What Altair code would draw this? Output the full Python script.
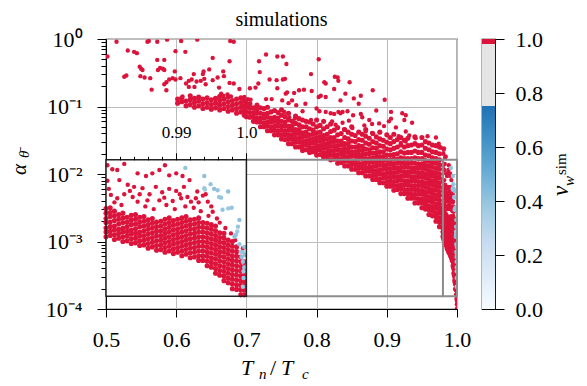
import altair as alt
import pandas as pd

# ---------------- data ----------------
# x = T_n/T_c, ly = log10(alpha_theta), v = v_w^sim (red points have v = 1.0)

# sparse upper cloud (x, ly)
cloud_pts = [
    (0.502, -0.26), (0.515, -0.04), (0.531, -0.17), (0.540, -0.19), (0.544, -0.21), (0.559, -0.04),
    (0.561, -0.03), (0.573, -0.04), (0.587, -0.01), (0.599, -0.18), (0.607, -0.03), (0.613, -0.19),
    (0.630, -0.01), (0.652, -0.28), (0.677, -0.03), (0.682, -0.04), (0.676, -0.33),
    (0.529, -0.54), (0.526, -0.56), (0.548, -0.41), (0.550, -0.44), (0.552, -0.46), (0.549, -0.55),
    (0.555, -0.57), (0.563, -0.58), (0.565, -0.75), (0.573, -0.31), (0.583, -0.31), (0.577, -0.43),
    (0.581, -0.44), (0.574, -0.46), (0.583, -0.46), (0.586, -0.64), (0.590, -0.60), (0.595, -0.58),
    (0.598, -0.48), (0.599, -0.60), (0.583, -0.67), (0.586, -0.76), (0.606, -0.58), (0.609, -0.85),
    (0.614, -0.66), (0.618, -0.62), (0.618, -0.71), (0.622, -0.60), (0.625, -0.52), (0.626, -0.71),
    (0.629, -0.63), (0.635, -0.62), (0.639, -0.48), (0.638, -0.52), (0.640, -0.59), (0.642, -0.67),
    (0.647, -0.45), (0.652, -0.61), (0.659, -0.57), (0.667, -0.48), (0.668, -0.55), (0.661, -0.72),
    (0.664, -0.81), (0.667, -0.84), (0.673, -0.82), (0.678, -0.85), (0.676, -0.65), (0.682, -0.66),
    (0.690, -0.74), (0.697, -0.86), (0.702, -0.89), (0.706, -0.90), (0.705, -0.73), (0.718, -0.33),
    (0.728, -0.23), (0.719, -0.49), (0.717, -0.66), (0.713, -0.72), (0.733, -0.60), (0.743, -0.61),
    (0.744, -0.73), (0.744, -0.26), (0.752, -0.26), (0.736, -0.89), (0.728, -0.89),
    (0.757, -0.37), (0.803, -0.30), (0.752, -0.60), (0.755, -0.59), (0.792, -0.52), (0.811, -0.64),
    (0.813, -0.66), (0.826, -0.56), (0.830, -0.57), (0.831, -0.62), (0.847, -0.64), (0.825, -0.74),
    (0.806, -0.84), (0.803, -0.86), (0.813, -0.86), (0.841, -0.81), (0.834, -0.91), (0.853, -0.88),
    (0.863, -0.84), (0.860, -0.96), (0.880, -0.76), (0.897, -0.90), (0.885, -1.06), (0.906, -1.08),
    (0.927, -1.13), (0.925, -1.20), (0.756, -0.81), (0.758, -0.79), (0.768, -0.80), (0.775, -0.76),
    (0.782, -0.75), (0.793, -0.77), (0.784, -0.96), (0.792, -1.20), (0.751, -0.91), (0.760, -0.95),
    (0.765, -0.91), (0.771, -0.98), (0.754, -1.08), (0.761, -1.16), (0.769, -1.18), (0.780, -1.07),
    (0.800, -1.03), (0.804, -1.07), (0.813, -1.08), (0.825, -1.11), (0.831, -1.08), (0.837, -1.08),
    (0.844, -1.07), (0.852, -1.13), (0.865, -1.16), (0.889, -1.25), (0.820, -1.10), (0.834, -1.10),
    (0.863, -1.11), (0.906, -1.18), (0.903, -1.22), (0.913, -1.31), (0.896, -1.29), (0.875, -1.20),
    (0.879, -1.26), (0.868, -1.28), (0.870, -1.37), (0.879, -1.39), (0.822, -1.22), (0.827, -1.27),
    (0.837, -1.24), (0.846, -1.21), (0.839, -1.34), (0.851, -1.32), (0.927, -1.37), (0.932, -1.43),
    (0.941, -1.47), (0.958, -1.44), (0.970, -1.46), (0.922, -1.10), (0.936, -1.24), (0.917, -1.44),
    (0.920, -1.54), (0.941, -1.56), (0.927, -1.52), (0.977, -1.61), (0.974, -1.55),
    (0.9806, -1.70), (0.9815, -1.62), (0.9830, -1.76), (0.9840, -1.74), (0.9810, -1.64),
]

# band near the lower envelope, 0.60 < x < 0.70 (columns: x, ly values)
left_col_x = [0.602, 0.608, 0.614, 0.620, 0.626, 0.632, 0.638, 0.644, 0.650, 0.656, 0.662,
              0.668, 0.674, 0.680, 0.686, 0.692, 0.697]
left_col_ly = [
    [-0.95, -0.89], [-0.93, -0.87], [-0.99, -0.92], [-0.97, -0.90, -0.84], [-1.01, -0.94, -0.88],
    [-0.99, -0.92, -0.86], [-1.03, -0.96, -0.89], [-1.01, -0.94, -0.87], [-1.04, -0.97, -0.90],
    [-1.02, -0.95, -0.88], [-1.05, -0.98, -0.91, -0.85], [-1.03, -0.96, -0.89],
    [-1.07, -1.00, -0.93, -0.86], [-1.05, -0.98, -0.91], [-1.10, -1.03, -0.96, -0.89],
    [-1.08, -1.01, -0.94, -0.87], [-1.13, -1.06, -0.99, -0.92],
]

# dense band, 0.70 <= x <= 0.975
band_col_x = [0.700, 0.705, 0.710, 0.715, 0.720, 0.725, 0.730, 0.735, 0.740, 0.745, 0.750, 0.755,
              0.760, 0.765, 0.770, 0.775, 0.780, 0.785, 0.790, 0.795, 0.800, 0.805, 0.810, 0.815,
              0.820, 0.825, 0.830, 0.835, 0.840, 0.845, 0.850, 0.855, 0.860, 0.865, 0.870, 0.875,
              0.880, 0.885, 0.890, 0.895, 0.900, 0.905, 0.910, 0.915, 0.920, 0.925, 0.930, 0.935,
              0.940, 0.945, 0.950, 0.955, 0.960, 0.965, 0.970, 0.975]
band_col_ly = [
    [-1.15, -1.08, -1.01, -0.95],
    [-1.16, -1.09, -1.02, -0.96],
    [-1.22, -1.15, -1.09, -1.02],
    [-1.23, -1.17, -1.10, -1.04, -0.98],
    [-1.30, -1.23, -1.17, -1.10, -1.02],
    [-1.30, -1.24, -1.17, -1.11, -1.03],
    [-1.36, -1.29, -1.23, -1.16, -1.10, -1.01],
    [-1.36, -1.30, -1.23, -1.17, -1.08],
    [-1.42, -1.35, -1.29, -1.22, -1.16, -1.06],
    [-1.42, -1.36, -1.29, -1.23, -1.17, -1.09],
    [-1.48, -1.42, -1.35, -1.29, -1.22, -1.13, -1.05],
    [-1.49, -1.42, -1.36, -1.29, -1.23, -1.15],
    [-1.55, -1.48, -1.42, -1.35, -1.29, -1.20, -1.10],
    [-1.55, -1.48, -1.42, -1.35, -1.29, -1.22],
    [-1.60, -1.53, -1.47, -1.40, -1.34, -1.25, -1.14],
    [-1.60, -1.53, -1.47, -1.40, -1.34, -1.27, -1.18],
    [-1.65, -1.58, -1.52, -1.45, -1.39, -1.30, -1.20],
    [-1.64, -1.57, -1.51, -1.44, -1.38, -1.30, -1.22],
    [-1.68, -1.62, -1.55, -1.49, -1.42, -1.33, -1.23],
    [-1.67, -1.61, -1.54, -1.48, -1.41, -1.35, -1.26],
    [-1.72, -1.65, -1.59, -1.52, -1.46, -1.39, -1.30, -1.20],
    [-1.71, -1.64, -1.58, -1.51, -1.45, -1.38, -1.28],
    [-1.75, -1.69, -1.62, -1.56, -1.49, -1.43, -1.33, -1.22],
    [-1.74, -1.68, -1.61, -1.55, -1.48, -1.41, -1.30],
    [-1.79, -1.72, -1.66, -1.59, -1.53, -1.46, -1.37, -1.26],
    [-1.78, -1.72, -1.65, -1.59, -1.52, -1.46, -1.35],
    [-1.84, -1.77, -1.71, -1.64, -1.58, -1.51, -1.42, -1.31],
    [-1.83, -1.77, -1.70, -1.64, -1.57, -1.51, -1.40],
    [-1.88, -1.81, -1.75, -1.68, -1.62, -1.55, -1.46, -1.34],
    [-1.88, -1.81, -1.75, -1.68, -1.62, -1.55, -1.48, -1.38],
    [-1.93, -1.86, -1.80, -1.73, -1.67, -1.60, -1.51, -1.41, -1.30],
    [-1.93, -1.86, -1.80, -1.73, -1.67, -1.60, -1.52, -1.43],
    [-1.98, -1.91, -1.85, -1.78, -1.72, -1.65, -1.58, -1.49, -1.38],
    [-1.98, -1.91, -1.85, -1.78, -1.72, -1.65, -1.59, -1.50, -1.41],
    [-2.03, -1.96, -1.90, -1.83, -1.77, -1.70, -1.63, -1.54, -1.44, -1.34],
    [-2.03, -1.96, -1.90, -1.83, -1.77, -1.70, -1.64, -1.56, -1.47],
    [-2.08, -2.02, -1.95, -1.89, -1.82, -1.76, -1.69, -1.61, -1.52, -1.40],
    [-2.08, -2.01, -1.95, -1.88, -1.82, -1.75, -1.69, -1.62, -1.54, -1.45],
    [-2.13, -2.07, -2.00, -1.94, -1.87, -1.81, -1.74, -1.67, -1.58, -1.48, -1.38],
    [-2.13, -2.06, -2.00, -1.93, -1.87, -1.80, -1.74, -1.67, -1.59, -1.50],
    [-2.18, -2.12, -2.05, -1.99, -1.92, -1.86, -1.79, -1.72, -1.63, -1.53, -1.42],
    [-2.18, -2.11, -2.05, -1.98, -1.92, -1.85, -1.79, -1.72, -1.64, -1.55, -1.46],
    [-2.24, -2.17, -2.11, -2.04, -1.98, -1.91, -1.85, -1.78, -1.71, -1.62, -1.52, -1.41],
    [-2.23, -2.17, -2.10, -2.04, -1.97, -1.91, -1.84, -1.78, -1.70, -1.60, -1.49],
    [-2.29, -2.22, -2.16, -2.09, -2.03, -1.96, -1.90, -1.83, -1.76, -1.67, -1.57, -1.46],
    [-2.29, -2.23, -2.16, -2.10, -2.03, -1.97, -1.90, -1.84, -1.77, -1.69, -1.60, -1.50],
    [-2.36, -2.29, -2.23, -2.16, -2.10, -2.03, -1.97, -1.90, -1.84, -1.77, -1.68, -1.58, -1.47],
    [-2.36, -2.30, -2.23, -2.17, -2.10, -2.04, -1.97, -1.91, -1.84, -1.77, -1.68, -1.57],
    [-2.43, -2.36, -2.30, -2.23, -2.17, -2.10, -2.04, -1.97, -1.91, -1.84, -1.76, -1.66, -1.55, -1.45],
    [-2.43, -2.37, -2.30, -2.24, -2.17, -2.11, -2.04, -1.98, -1.91, -1.85, -1.77, -1.68, -1.58],
    [-2.50, -2.43, -2.37, -2.30, -2.24, -2.17, -2.11, -2.04, -1.98, -1.91, -1.85, -1.77, -1.68, -1.57, -1.46],
    [-2.52, -2.45, -2.39, -2.32, -2.26, -2.19, -2.13, -2.06, -2.00, -1.93, -1.87, -1.80, -1.72, -1.62, -1.52],
    [-2.60, -2.53, -2.47, -2.40, -2.34, -2.27, -2.21, -2.14, -2.08, -2.01, -1.95, -1.88, -1.81, -1.73, -1.64, -1.54],
    [-2.62, -2.55, -2.49, -2.42, -2.36, -2.29, -2.23, -2.16, -2.10, -2.03, -1.97, -1.90, -1.83, -1.76, -1.67, -1.57],
    [-2.70, -2.63, -2.57, -2.50, -2.44, -2.37, -2.31, -2.24, -2.18, -2.11, -2.05, -1.98, -1.91, -1.84, -1.77, -1.68, -1.58],
    [-2.78, -2.71, -2.65, -2.58, -2.52, -2.45, -2.39, -2.32, -2.26, -2.19, -2.13, -2.06, -2.00, -1.93, -1.86, -1.79, -1.70, -1.60],
]

# zoomed region 0.98 <= x <= 1.0, dense band (columns)
near_col_x = [0.9800, 0.9806, 0.9812, 0.9818, 0.9824, 0.9830, 0.9836, 0.9842, 0.9848, 0.9854,
              0.9860, 0.9866, 0.9872, 0.9878, 0.9884, 0.9890, 0.9896, 0.9902, 0.9908, 0.9914,
              0.9920, 0.9926, 0.9932, 0.9938, 0.9944, 0.9950, 0.9956, 0.9962, 0.9968, 0.9974,
              0.9980, 0.9986, 0.9992, 0.9997]
near_col_ly = [
    [-2.93, -2.86, -2.80, -2.72, -2.66, -2.58, -2.51],
    [-2.91, -2.85, -2.78, -2.71, -2.63, -2.57, -2.50],
    [-2.97, -2.90, -2.83, -2.77, -2.69, -2.62, -2.55],
    [-2.95, -2.88, -2.82, -2.74, -2.67, -2.60],
    [-3.00, -2.93, -2.86, -2.80, -2.72, -2.65, -2.58],
    [-2.99, -2.92, -2.85, -2.78, -2.71, -2.64],
    [-3.03, -2.96, -2.89, -2.83, -2.75, -2.68, -2.61],
    [-3.02, -2.95, -2.88, -2.81, -2.74, -2.67, -2.60],
    [-3.06, -2.99, -2.92, -2.86, -2.78, -2.71, -2.64],
    [-3.05, -2.98, -2.91, -2.84, -2.77, -2.70, -2.63],
    [-3.10, -3.03, -2.96, -2.89, -2.82, -2.75, -2.68],
    [-3.08, -3.01, -2.94, -2.87, -2.80, -2.73, -2.66],
    [-3.13, -3.06, -2.99, -2.92, -2.85, -2.78, -2.71],
    [-3.12, -3.05, -2.98, -2.91, -2.84, -2.77, -2.70],
    [-3.16, -3.09, -3.02, -2.95, -2.88, -2.81, -2.74, -2.67],
    [-3.14, -3.07, -3.00, -2.93, -2.86, -2.79, -2.72, -2.65],
    [-3.18, -3.11, -3.04, -2.97, -2.90, -2.83, -2.76, -2.69],
    [-3.16, -3.09, -3.02, -2.95, -2.88, -2.81, -2.74, -2.67],
    [-3.21, -3.14, -3.07, -3.00, -2.93, -2.86, -2.79, -2.72, -2.65],
    [-3.19, -3.12, -3.05, -2.98, -2.91, -2.84, -2.77, -2.70, -2.63],
    [-3.24, -3.17, -3.10, -3.03, -2.96, -2.89, -2.82, -2.75, -2.68],
    [-3.23, -3.16, -3.09, -3.02, -2.95, -2.88, -2.81, -2.74, -2.67],
    [-3.28, -3.21, -3.14, -3.07, -3.00, -2.93, -2.86, -2.79, -2.72, -2.65],
    [-3.28, -3.21, -3.14, -3.07, -3.00, -2.93, -2.86, -2.79, -2.72],
    [-3.36, -3.29, -3.22, -3.15, -3.08, -3.01, -2.94, -2.87, -2.80, -2.73],
    [-3.38, -3.31, -3.24, -3.17, -3.10, -3.03, -2.96, -2.89, -2.82, -2.75],
    [-3.47, -3.40, -3.33, -3.26, -3.19, -3.12, -3.05, -2.98, -2.91, -2.84, -2.77],
    [-3.50, -3.43, -3.36, -3.29, -3.22, -3.15, -3.08, -3.01, -2.94, -2.87],
    [-3.58, -3.51, -3.44, -3.37, -3.30, -3.23, -3.16, -3.09, -3.02, -2.95, -2.88],
    [-3.61, -3.54, -3.47, -3.40, -3.33, -3.26, -3.19, -3.12, -3.05, -2.98],
    [-3.70, -3.63, -3.56, -3.49, -3.42, -3.35, -3.28, -3.21, -3.14, -3.07, -3.00],
    [-3.71, -3.64, -3.57, -3.50, -3.43, -3.36, -3.29, -3.22, -3.15, -3.08],
    [-3.79, -3.72, -3.65, -3.58, -3.51, -3.44, -3.37, -3.30, -3.23],
    [-3.79, -3.72, -3.65, -3.58, -3.51, -3.44, -3.37, -3.30],
]

# zoomed region, sparser red points above the band and the tail below it (x, ly)
near_pts = [
    (0.9802, -1.87), (0.9809, -1.93), (0.9816, -1.94), (0.9826, -1.85), (0.9845, -1.99), (0.9857, -2.03),
    (0.9866, -1.99), (0.9876, -1.94), (0.9884, -1.87), (0.9890, -2.02), (0.9900, -1.99), (0.9909, -2.03),
    (0.9919, -2.09), (0.9802, -2.10), (0.9819, -2.09), (0.9831, -2.16), (0.9840, -2.19), (0.9852, -2.21),
    (0.9871, -2.19), (0.9890, -2.22), (0.9900, -2.25), (0.9911, -2.19), (0.9930, -2.26), (0.9938, -2.32),
    (0.9928, -2.36), (0.9807, -2.31), (0.9816, -2.36), (0.9826, -2.30), (0.9838, -2.34), (0.9845, -2.41),
    (0.9859, -2.39), (0.9876, -2.39), (0.9883, -2.35), (0.9907, -2.36), (0.9916, -2.34), (0.9921, -2.41),
    (0.9945, -2.41), (0.9950, -2.48), (0.9952, -2.56), (0.9804, -2.22), (0.9812, -2.42), (0.9822, -2.46),
    (0.9834, -2.25), (0.9848, -2.30), (0.9856, -2.48), (0.9862, -2.30), (0.9868, -2.52), (0.9880, -2.27),
    (0.9886, -2.46), (0.9895, -2.40), (0.9898, -2.52), (0.9905, -2.30), (0.9913, -2.48), (0.9925, -2.50),
    (0.9932, -2.42), (0.9935, -2.55), (0.9942, -2.30), (0.9946, -2.62), (0.9958, -2.66), (0.9962, -2.72),
    (0.9970, -2.80), (0.9978, -2.88), (0.9984, -2.98), (0.9995, -3.10),
    (0.9995, -3.84), (0.9996, -3.86), (0.9998, -3.88), (0.9998, -3.93), (0.9999, -3.99), (1.0000, -4.04),
]

# slower walls (light blue), (x, ly, v)
blue_pts = [
    (0.9913, -1.91, 0.40), (0.9940, -2.03, 0.42), (0.9940, -2.21, 0.40), (0.9941, -2.23, 0.38),
    (0.9949, -2.15, 0.40), (0.9954, -2.22, 0.42), (0.9959, -2.24, 0.40), (0.9961, -2.34, 0.38),
    (0.9964, -2.35, 0.40), (0.9974, -2.26, 0.42), (0.9966, -2.53, 0.40), (0.9974, -2.51, 0.38),
    (0.9979, -2.50, 0.40), (0.9990, -2.68, 0.42), (0.9988, -2.78, 0.40), (0.9987, -2.85, 0.38),
    (0.9985, -2.90, 0.40), (0.9983, -2.93, 0.42), (0.9990, -3.04, 0.40), (0.9992, -3.15, 0.38),
    (0.9995, -3.16, 0.40), (0.9993, -3.23, 0.42), (0.9995, -3.30, 0.40), (0.9996, -3.54, 0.40),
    (0.9995, -3.67, 0.38), (0.9997, -3.08, 0.40), (0.9998, -3.20, 0.42), (0.9997, -3.38, 0.40),
    (0.9996, -3.44, 0.38),
]

# colour map of v_w^sim (stops of the colour bar)
cmap_v = [0.0, 0.125, 0.25, 0.375, 0.5, 0.625, 0.75, 0.7501, 0.98, 0.9801, 1.0]
cmap_c = ["#f7fbff", "#deebf7", "#c6dbef", "#9ecae1", "#6baed6", "#4292c6", "#2171b5",
          "#e5e5e5", "#e5e5e5", "#dc143c", "#dc143c"]

# zoom window
zoom_x = [0.98, 1.0]
zoom_ly = [-3.81, -1.79]
inset_right_main = 0.7

# ---------------- build tables ----------------
rows = []
for x, ly in cloud_pts:
    rows.append((x, ly, 1.0, "sparse"))
for x, col in zip(left_col_x, left_col_ly):
    rows += [(x, ly, 1.0, "band") for ly in col]
for x, col in zip(band_col_x, band_col_ly):
    rows += [(x, ly, 1.0, "band") for ly in col]
for x, col in zip(near_col_x, near_col_ly):
    rows += [(x, ly, 1.0, "band") for ly in col]
for x, ly in near_pts:
    rows.append((x, ly, 1.0, "sparse"))
rows += [(x, ly, v, "sparse") for x, ly, v in blue_pts]
df = pd.DataFrame(rows, columns=["Tn", "logalpha", "v", "kind"])
df["alpha"] = 10.0 ** df["logalpha"]

box_df = pd.DataFrame({"x0": [zoom_x[0]], "x1": [zoom_x[1]],
                       "y0": [10.0 ** zoom_ly[0]], "y1": [10.0 ** zoom_ly[1]]})
conn_df = pd.DataFrame({"xa": [inset_right_main, inset_right_main],
                        "xb": [zoom_x[0], zoom_x[0]],
                        "y": [10.0 ** zoom_ly[0], 10.0 ** zoom_ly[1]]})
one = pd.DataFrame({"k": [0]})

# ---------------- style / layout ----------------
FONT = "Liberation Serif"
W, H = 351, 270
GRID = "#bdbdbd"
LABEL = 22
size_enc = alt.Size("kind:N", scale=alt.Scale(domain=["sparse", "band"], range=[19, 26]), legend=None)

decades = [1, 0.1, 0.01, 0.001, 0.0001]
y_ticks = sorted(set(decades + [round(m * 10.0 ** k, 6) for k in range(-4, 0) for m in range(2, 10)]))
major_test = "indexof([1, 0.1, 0.01, 0.001, 0.0001], datum.value) >= 0"

x_scale = alt.Scale(domain=[0.5, 1.0], nice=False, zero=False)
y_scale = alt.Scale(type="log", domain=[1e-4, 1], nice=False)
ix_scale = alt.Scale(domain=zoom_x, nice=False, zero=False, range=[0, W * 0.4])
c_scale = alt.Scale(domain=cmap_v, range=cmap_c, interpolate="rgb")

x_axis = alt.Axis(values=[0.5, 0.6, 0.7, 0.8, 0.9, 1.0], format=".1f", title=None,
                  tickSize=8, labelFontSize=LABEL, labelPadding=12, labelFlush=False,
                  grid=True, gridColor=GRID, gridWidth=1)
y_axis = alt.Axis(values=y_ticks, title=None, labelOverlap=False, labelFlush=False,
                  labelExpr=("datum.value == 1 ? '10⁰' : datum.value == 0.1 ? '10⁻¹' : "
                             "datum.value == 0.01 ? '10⁻²' : datum.value == 0.001 ? '10⁻³' : "
                             "datum.value == 0.0001 ? '10⁻⁴' : ''"),
                  tickSize={"condition": {"test": major_test, "value": 9}, "value": 5},
                  grid=True, gridColor=GRID, gridWidth=1,
                  gridOpacity={"condition": {"test": major_test, "value": 1}, "value": 0},
                  labelFontSize=LABEL, labelPadding=15)
ix_ticks = [round(0.982 + 0.002 * i, 3) for i in range(10)]
inset_axis = alt.Axis(orient="top", offset=-H * (-zoom_ly[1]) / 4.0, values=ix_ticks, title=None,
                      labelExpr="datum.value == 0.99 ? '0.99' : datum.value == 1 ? '1.0' : ''",
                      tickSize={"condition": {"test": "datum.value == 0.99 || datum.value == 1",
                                              "value": 7}, "value": 3.5},
                      labelFontSize=17, labelPadding=11, labelFlush=False, labelOverlap=False,
                      grid=False, domain=False, zindex=1)

# ---------------- main panel ----------------
pts_base = alt.Chart(df)
main_pts = pts_base.mark_circle(opacity=1, clip=True).encode(
    x=alt.X("Tn:Q", scale=x_scale, axis=x_axis),
    y=alt.Y("alpha:Q", scale=y_scale, axis=y_axis),
    color=alt.Color("v:Q", scale=c_scale, legend=None),
    size=size_enc,
)
box = alt.Chart(box_df).mark_rect(fillOpacity=0, stroke="#8c8c8c", strokeWidth=2).encode(
    x=alt.X("x0:Q", scale=x_scale, axis=x_axis), x2="x1:Q",
    y=alt.Y("y0:Q", scale=y_scale, axis=y_axis), y2="y1:Q",
)
conn = alt.Chart(conn_df).mark_rule(color="#8c8c8c", strokeWidth=2).encode(
    x=alt.X("xa:Q", scale=x_scale, axis=x_axis), x2="xb:Q",
    y=alt.Y("y:Q", scale=y_scale, axis=y_axis),
)
main_group = alt.layer(main_pts, box, conn)

# ---------------- inset ----------------
inset_bg = alt.Chart(box_df).mark_rect(color="white", strokeWidth=0).encode(
    x=alt.X("x0:Q", scale=ix_scale, axis=inset_axis), x2="x1:Q",
    y=alt.Y("y0:Q", scale=y_scale, axis=y_axis), y2="y1:Q",
)
inset_pts = pts_base.transform_filter(
    f"datum.Tn >= {zoom_x[0]} && datum.logalpha <= {zoom_ly[1]} && datum.logalpha >= {zoom_ly[0]}"
).mark_circle(opacity=1).encode(
    x=alt.X("Tn:Q", scale=ix_scale, axis=inset_axis),
    y=alt.Y("alpha:Q", scale=y_scale, axis=y_axis),
    color=alt.Color("v:Q", scale=c_scale, legend=None),
    size=size_enc,
)
inset_frame = alt.Chart(box_df).mark_rect(fillOpacity=0, stroke="#222222", strokeWidth=1.5).encode(
    x=alt.X("x0:Q", scale=ix_scale, axis=inset_axis), x2="x1:Q",
    y=alt.Y("y0:Q", scale=y_scale, axis=y_axis), y2="y1:Q",
)
inset_group = alt.layer(inset_bg, inset_pts, inset_frame)


def txt(s, x, y, size, italic=True, angle=0, align="left", baseline="alphabetic"):
    return alt.Chart(one).mark_text(
        text=s, font=FONT, fontSize=size, fontStyle="italic" if italic else "normal",
        align=align, baseline=baseline, angle=angle, color="black",
    ).encode(x=alt.value(x), y=alt.value(y))


x_title = [txt("T", 135, 336, 22), txt("n", 153, 340, 15), txt("/", 164, 336, 22, italic=False),
           txt("T", 175, 336, 22), txt("c", 196, 340, 15)]
y_title = [txt("α", -80, 136, 21, angle=270), txt("\u03b8\u0304", -77, 119, 15, angle=270)]
top_title = txt("simulations", W / 2, -19, 20, italic=False, align="center", baseline="middle")

main_chart = alt.layer(main_group, inset_group, *x_title, *y_title, top_title).resolve_scale(
    x="independent"
).properties(width=W, height=H)

# ---------------- colour bar ----------------
cb_df = pd.DataFrame({"lo": [0.0], "hi": [1.0]})
stops = [alt.GradientStop(offset=o, color=c) for o, c in zip(cmap_v, cmap_c)]
cb_axis = alt.Axis(orient="right", values=[0, 0.2, 0.4, 0.6, 0.8, 1.0], format=".1f", title=None,
                   tickSize=9, labelFontSize=LABEL, labelPadding=11, labelFlush=False,
                   domain=False, grid=False)
cbar_rect = alt.Chart(cb_df).mark_rect(
    color=alt.LinearGradient(gradient="linear", stops=stops, x1=0, x2=0, y1=1, y2=0)
).encode(
    y=alt.Y("lo:Q", scale=alt.Scale(domain=[0, 1], nice=False, zero=False), axis=cb_axis),
    y2="hi:Q",
)
cb_title = [txt("v", 86, 157, 23, angle=270), txt("w", 92, 147, 15, angle=270),
            txt("sim", 84, 136, 15, italic=False, angle=270)]
cbar = alt.layer(cbar_rect, *cb_title).properties(width=13, height=H)

chart = alt.hconcat(main_chart, cbar, spacing=9).properties(
    padding={"left": 0, "top": 1, "right": 0, "bottom": 0}
).configure_view(stroke="black", strokeWidth=1.2).configure_axis(
    domainColor="black", tickColor="black", labelColor="black", labelFont=FONT,
    tickWidth=1, domainWidth=1,
)

chart.save("out.html", embed_options={"renderer": "svg", "actions": False})
